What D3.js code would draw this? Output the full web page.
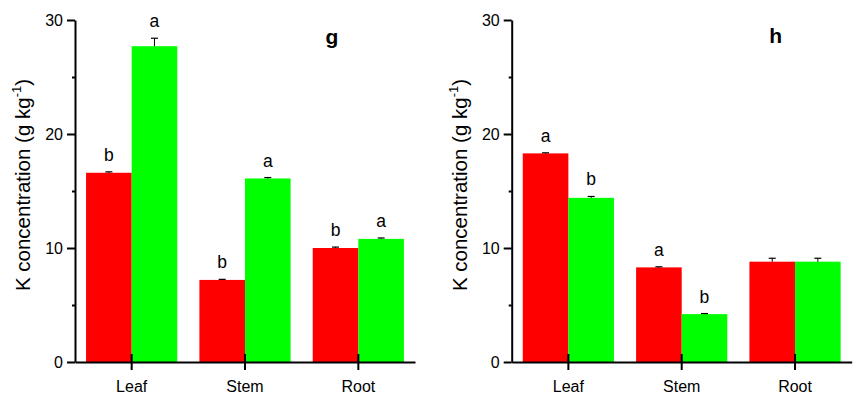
<!DOCTYPE html>
<html>
  <head>
    <meta charset="utf-8"/>
    <title>K concentration</title>
    <script src="https://d3js.org/d3.v7.min.js"></script>
    <style>
      body { margin: 0; background: #fff; font-family: Arial, 'Liberation Sans', sans-serif; }
      .axis path, .axis line { stroke: #000; stroke-width: 2px; }
      .axis text { font-size: 16px; fill: #000; font-family: Arial, 'Liberation Sans', sans-serif; }
    </style>
  </head>
  <body>
    <div id="chart"></div>
  <script>
  // ---------- data ----------
  var categories = ["Leaf", "Stem", "Root"];
  var yTicks = [0, 10, 20, 30];
  var yMinor = [5, 15, 25];

  // panel g
  var gRed = [16.6, 7.2, 10.0];
  var gGreen = [27.7, 16.1, 10.8];
  var gRedErr = [0.08, 0.05, 0.08];
  var gGreenErr = [0.7, 0.08, 0.08];
  var gRedLetters = ["b", "b", "b"];
  var gGreenLetters = ["a", "a", "a"];

  // panel h
  var hRed = [18.3, 8.3, 8.8];
  var hGreen = [14.4, 4.2, 8.8];
  var hRedErr = [0.05, 0.05, 0.3];
  var hGreenErr = [0.12, 0.05, 0.3];
  var hRedLetters = ["a", "a", ""];
  var hGreenLetters = ["b", "b", ""];

  var colors = { red: "#ff0000", green: "#00ff00" };

  // ---------- set-up ----------
  var width = 858, height = 396;
  var svg = d3.select("#chart").append("svg")
    .attr("width", width)
    .attr("height", height);

  var y = d3.scaleLinear().domain([0, 30]).range([362, 20]);

  function drawPanel(opt) {
    var g = svg.append("g").attr("transform", "translate(" + opt.left + ",0)");

    var x = d3.scaleBand().domain(categories).range([0, 340]).paddingInner(0).paddingOuter(0);
    var barW = 45.6;

    var rows = categories.map(function(c, i) {
      return [
        { cat: c, v: opt.red[i], e: opt.redErr[i], l: opt.redL[i], col: colors.red, off: -barW },
        { cat: c, v: opt.green[i], e: opt.greenErr[i], l: opt.greenL[i], col: colors.green, off: 0 }
      ];
    });
    var bars = [].concat.apply([], rows);

    var cx = function(d) { return x(d.cat) + x.bandwidth() / 2; };

    // bars
    g.selectAll("rect.bar").data(bars).enter().append("rect")
      .attr("class", "bar")
      .attr("x", function(d) { return cx(d) + d.off; })
      .attr("width", barW)
      .attr("y", function(d) { return y(d.v); })
      .attr("height", function(d) { return y(0) - y(d.v); })
      .attr("fill", function(d) { return d.col; });

    // error bars (upper only)
    var eb = g.selectAll("g.err").data(bars).enter().append("g").attr("class", "err");
    eb.append("line")
      .attr("x1", function(d) { return cx(d) + d.off + barW / 2; })
      .attr("x2", function(d) { return cx(d) + d.off + barW / 2; })
      .attr("y1", function(d) { return y(d.v); })
      .attr("y2", function(d) { return y(d.v + d.e); })
      .attr("stroke", "#000").attr("stroke-width", 1);
    eb.append("line")
      .attr("x1", function(d) { return cx(d) + d.off + barW / 2 - 3.5; })
      .attr("x2", function(d) { return cx(d) + d.off + barW / 2 + 3.5; })
      .attr("y1", function(d) { return y(d.v + d.e); })
      .attr("y2", function(d) { return y(d.v + d.e); })
      .attr("stroke", "#000").attr("stroke-width", 1.2);

    // letters
    g.selectAll("text.sig").data(bars).enter().append("text")
      .attr("class", "sig")
      .attr("x", function(d) { return cx(d) + d.off + barW / 2; })
      .attr("y", function(d) { return y(d.v + d.e) - 11; })
      .attr("text-anchor", "middle")
      .style("font-size", "17.5px")
      .text(function(d) { return d.l; });

    // y axis
    g.append("g").attr("class", "axis")
      .call(d3.axisLeft(y).tickValues(yMinor).tickSize(3).tickFormat(""))
      .select(".domain").remove();
    var ya = g.append("g").attr("class", "axis")
      .call(d3.axisLeft(y).tickValues(yTicks).tickSize(8).tickSizeOuter(0).tickPadding(4));
    ya.selectAll("line").attr("stroke-width", 2);

    // x axis with crossing ticks
    var xa = g.append("g").attr("class", "axis")
      .attr("transform", "translate(0," + y(0) + ")")
      .call(d3.axisBottom(x).tickSize(8).tickSizeOuter(0).tickPadding(11));
    xa.selectAll(".tick line").attr("y1", -8).attr("stroke-width", 1.6);
    xa.selectAll(".tick text").style("font-size", "16px");

    // y label
    var lab = g.append("text")
      .attr("transform", "translate(" + opt.labelX + ",185) rotate(-90)")
      .attr("text-anchor", "middle")
      .style("font-size", "20.5px");
    lab.append("tspan").text("K concentration (g kg");
    lab.append("tspan").attr("dy", -9).style("font-size", "13px").text("-1");
    lab.append("tspan").attr("dy", 9).text(")");

    // panel letter
    g.append("text")
      .attr("x", opt.tagX)
      .attr("y", opt.tagY)
      .attr("text-anchor", "middle")
      .style("font-size", "21px")
      .style("font-weight", "bold")
      .text(opt.tag);
  }

  drawPanel({ left: 75, red: gRed, green: gGreen, redErr: gRedErr, greenErr: gGreenErr,
              redL: gRedLetters, greenL: gGreenLetters, labelX: -45, tag: "g", tagX: 257, tagY: 44 });
  drawPanel({ left: 511.7, red: hRed, green: hGreen, redErr: hRedErr, greenErr: hGreenErr,
              redL: hRedLetters, greenL: hGreenLetters, labelX: -45, tag: "h", tagX: 264, tagY: 43 });
  </script>
  </body>
</html>
